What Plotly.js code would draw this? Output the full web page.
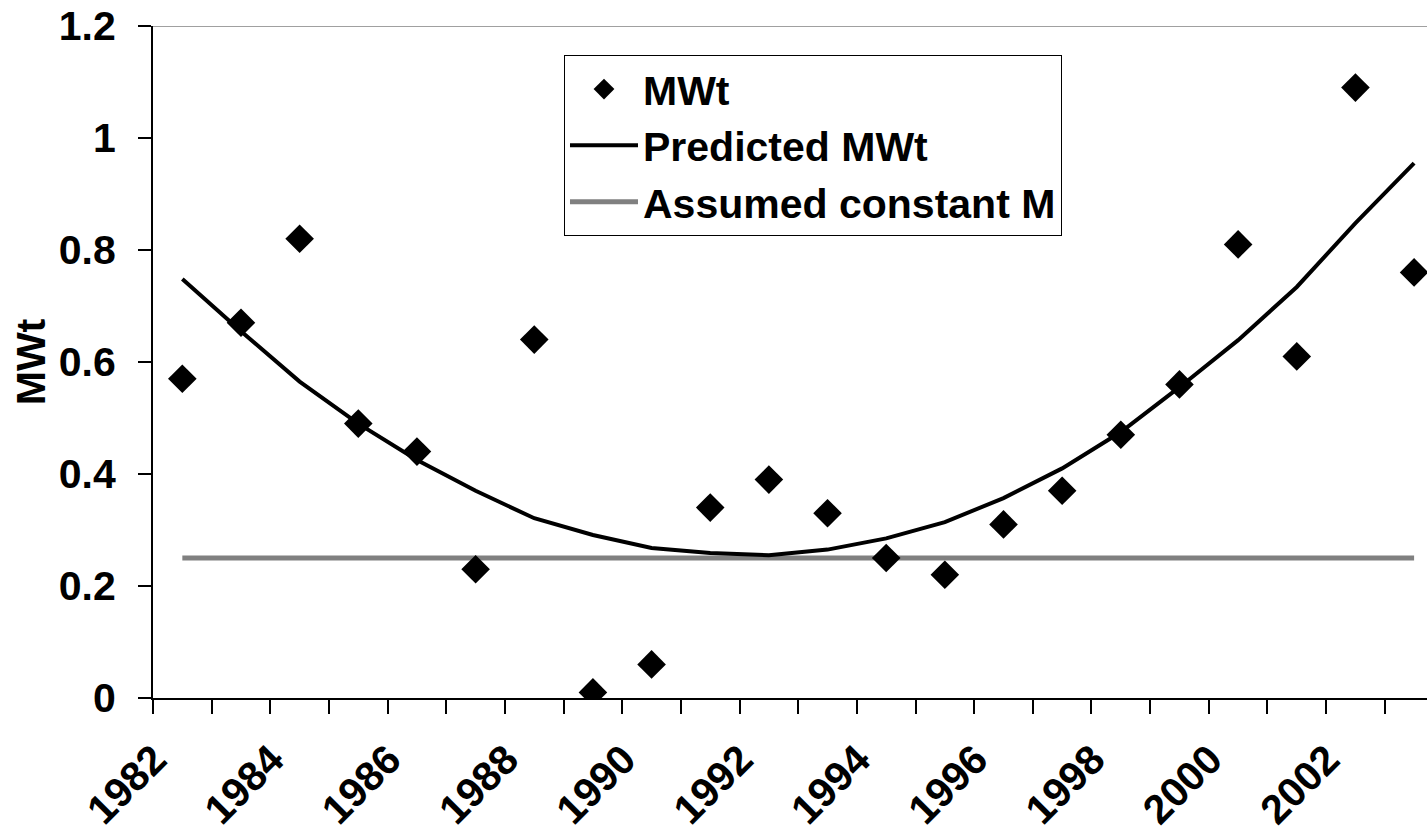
<!DOCTYPE html>
<html>
<head>
<meta charset="utf-8">
<script src="https://cdn.plot.ly/plotly-3.0.1.min.js"></script>
<style>
html,body{margin:0;padding:0;background:#fff;overflow:hidden;}
#chart{width:1427px;height:833px;}
</style>
</head>
<body>
<div id="chart"></div>
<script>
const years = [1982,1983,1984,1985,1986,1987,1988,1989,1990,1991,1992,1993,1994,1995,1996,1997,1998,1999,2000,2001,2002,2003];
const mwt = [0.57,0.67,0.82,0.49,0.44,0.23,0.64,0.01,0.06,0.34,0.39,0.33,0.25,0.22,0.31,0.37,0.47,0.56,0.81,0.61,1.09,0.76];
const predicted = [0.748,0.655,0.565,0.49,0.425,0.37,0.321,0.291,0.268,0.259,0.255,0.265,0.285,0.314,0.357,0.41,0.475,0.555,0.639,0.734,0.848,0.955];
const constantM = [0.25,0.25,0.25,0.25,0.25,0.25,0.25,0.25,0.25,0.25,0.25,0.25,0.25,0.25,0.25,0.25,0.25,0.25,0.25,0.25,0.25,0.25];
const yTicks = [0,0.2,0.4,0.6,0.8,1,1.2];
const seriesNames = ["MWt","Predicted MWt","Assumed constant M"];

const idx = years.map((y,i)=>i);
const labelIdx = idx.filter(i => i % 2 === 0);
const labelText = labelIdx.map(i => String(years[i]));
const boundaries = [];
for (let i = 0; i <= years.length; i++) boundaries.push(i - 0.5);

const FONT = "'Liberation Sans', Arial, sans-serif";
const FS = 41;

const traces = [
  {x: idx, y: mwt, name: seriesNames[0], mode: 'markers', type: 'scatter',
   marker: {symbol: 'diamond', size: 22, color: '#000'}, legendgroup: 'a', legendrank: 1},
  {x: idx, y: predicted, name: seriesNames[1], mode: 'lines', type: 'scatter',
   line: {color: '#000', width: 4}, legendgroup: 'b', legendrank: 2},
  {x: idx, y: constantM, name: seriesNames[2], mode: 'lines', type: 'scatter',
   line: {color: '#808080', width: 5}, legendgroup: 'c', legendrank: 3}
];
const data = [traces[2], traces[1], traces[0]];

const layout = {
  width: 1427, height: 833,
  margin: {l: 153, r: 0, t: 26, b: 135},
  paper_bgcolor: '#fff', plot_bgcolor: '#fff',
  font: {family: FONT, size: FS, color: '#000', weight: 'bold'},
  showlegend: true,
  legend: {
    x: 0.3226, y: 0.957, xanchor: 'left', yanchor: 'top',
    bgcolor: '#fff', bordercolor: '#000', borderwidth: 1,
    font: {family: FONT, size: FS, color: '#000', weight: 'bold'},
    tracegroupgap: 1, traceorder: 'normal', itemwidth: 68
  },
  xaxis: {
    type: 'linear', range: [-0.5, 21.22],
    tickmode: 'array', tickvals: boundaries, showticklabels: false,
    ticks: 'outside', ticklen: 14, tickwidth: 2, tickcolor: '#000',
    showline: true, linecolor: '#000', linewidth: 2,
    showgrid: false, zeroline: false, fixedrange: true
  },
  xaxis2: {
    type: 'linear', overlaying: 'x', matches: 'x', anchor: 'y', side: 'bottom',
    range: [-0.5, 21.22],
    tickmode: 'array', tickvals: labelIdx, ticktext: labelText,
    tickangle: -45, ticks: '', showline: false, showgrid: false, zeroline: false,
    tickfont: {family: FONT, size: FS, color: '#000', weight: 'bold'},
    ticklabelstandoff: 28, ticklabelshift: -28
  },
  yaxis: {
    range: [0, 1.2], tickmode: 'array', tickvals: yTicks,
    ticks: 'outside', ticklen: 13, tickwidth: 2, tickcolor: '#000',
    showline: true, linecolor: '#000', linewidth: 2,
    showgrid: false, zeroline: false,
    tickfont: {family: FONT, size: FS, color: '#000', weight: 'bold'},
    ticklabelstandoff: 14,
    title: {text: 'MWt', font: {family: FONT, size: 41, color: '#000', weight: 'bold'}, standoff: 0}
  },
  shapes: [
    {type: 'line', xref: 'paper', yref: 'y', x0: 0, x1: 1, y0: 1.2, y1: 1.2,
     line: {color: '#808080', width: 1.5}}
  ]
};

data.push({x: [idx[0]], y: [mwt[0]], xaxis: 'x2', yaxis: 'y', mode: 'markers',
  marker: {opacity: 0}, showlegend: false, hoverinfo: 'skip'});

Plotly.newPlot('chart', data, layout, {staticPlot: true, displayModeBar: false});
</script>
</body>
</html>
